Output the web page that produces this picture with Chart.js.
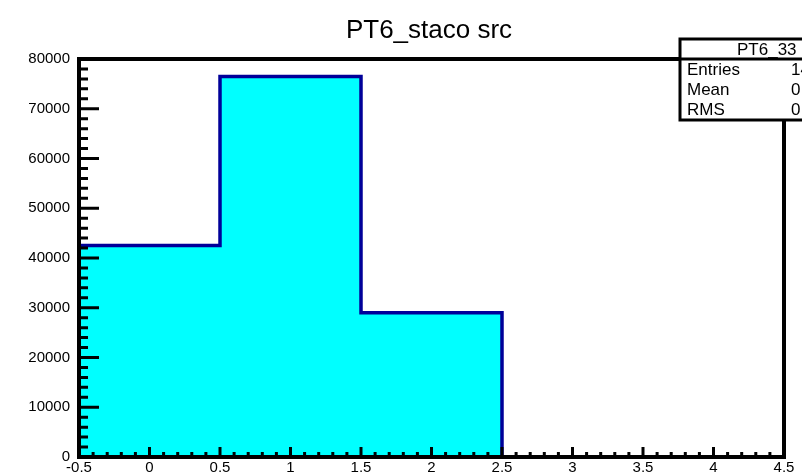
<!DOCTYPE html>
<html>
<head>
<meta charset="utf-8">
<script src="https://cdn.jsdelivr.net/npm/chart.js@4"></script>
<style>
  body { margin: 0; background: #fff; }
  canvas { display: block; }
</style>
</head>
<body>
<canvas id="histChart" width="802" height="475"></canvas>
<script>
// Histogram bin edges and counts
var binEdges = [-0.5, 0.5, 1.5, 2.5];
var binCounts = [42500, 76500, 29000];

// Axis tick labels
var xTicks = [-0.5, 0, 0.5, 1, 1.5, 2, 2.5, 3, 3.5, 4, 4.5];
var yTicks = [0, 10000, 20000, 30000, 40000, 50000, 60000, 70000, 80000];

var histName = 'PT6_33';
var histTitle = 'PT6_staco src';
var FONT = '"Liberation Sans", Arial, Helvetica, sans-serif';

// Step outline points built from edges/counts
var stepPoints = [{ x: binEdges[0], y: 0 }];
binCounts.forEach(function (c, i) {
    stepPoints.push({ x: binEdges[i], y: c });
});
stepPoints.push({ x: binEdges[binEdges.length - 1], y: 0 });

// Stats for the box
var entries = 0, sumX = 0, sumX2 = 0;
binCounts.forEach(function (c, i) {
    var mid = (binEdges[i] + binEdges[i + 1]) / 2;
    entries += c;
    sumX += c * mid;
    sumX2 += c * mid * mid;
});
var mean = sumX / entries;
var rms = Math.sqrt(sumX2 / entries - mean * mean);

// ROOT style frame, inward ticks, title and stats box
var rootFrame = {
    id: 'rootFrame',
    afterDraw: function (chart) {
        var ctx = chart.ctx;
        var a = chart.chartArea;
        var xs = chart.scales.x, ys = chart.scales.y;
        ctx.save();
        ctx.strokeStyle = '#000';

        // ticks
        ctx.lineWidth = 3;
        ctx.beginPath();
        for (var i = 0; i <= 40; i++) {
            var yv = i * 2000;
            var py = ys.getPixelForValue(yv);
            var len = (yv % 10000 === 0) ? 20 : 9;
            ctx.moveTo(a.left, py);
            ctx.lineTo(a.left + len, py);
        }
        for (var j = 0; j <= 50; j++) {
            var xv = -0.5 + j * 0.1;
            var px = xs.getPixelForValue(xv);
            var l2 = (j % 5 === 0) ? 10 : 5;
            ctx.moveTo(px, a.bottom);
            ctx.lineTo(px, a.bottom - l2);
        }
        ctx.stroke();

        // frame
        ctx.lineWidth = 4;
        ctx.strokeRect(a.left, a.top, a.right - a.left, a.bottom - a.top);

        // title
        ctx.fillStyle = '#000';
        ctx.font = '26px ' + FONT;
        ctx.textAlign = 'center';
        ctx.textBaseline = 'alphabetic';
        ctx.fillText(histTitle, 429, 38);

        // stats box
        ctx.fillStyle = '#fff';
        ctx.fillRect(680, 39, 140, 81);
        ctx.lineWidth = 3;
        ctx.strokeRect(680, 39, 140, 81);
        ctx.beginPath();
        ctx.moveTo(680, 59);
        ctx.lineTo(820, 59);
        ctx.stroke();

        ctx.fillStyle = '#000';
        ctx.font = '17px ' + FONT;
        ctx.textAlign = 'left';
        ctx.fillText(histName, 737, 55);
        ctx.fillText('Entries', 687, 75);
        ctx.fillText('Mean', 687, 95);
        ctx.fillText('RMS', 687, 115);
        ctx.fillText(String(entries), 791, 75);
        ctx.fillText(mean.toFixed(4), 791, 95);
        ctx.fillText(rms.toFixed(3), 791, 115);
        ctx.restore();
    }
};

var ctx = document.getElementById('histChart').getContext('2d');
var histChart = new Chart(ctx, {
    type: 'line',
    data: {
        datasets: [{
            label: histName,
            data: stepPoints,
            stepped: 'before',
            borderColor: '#000099',
            borderWidth: 3.5,
            backgroundColor: '#00ffff',
            fill: 'origin',
            pointRadius: 0,
            tension: 0
        }]
    },
    options: {
        responsive: false,
        animation: false,
        layout: { padding: { left: 0, top: 59, right: 18, bottom: 0 } },
        scales: {
            x: {
                type: 'linear',
                min: -0.5,
                max: 4.5,
                grid: { display: false, drawTicks: false },
                border: { display: false },
                afterBuildTicks: function (scale) {
                    scale.ticks = xTicks.map(function (v) { return { value: v }; });
                },
                afterFit: function (scale) { scale.height = 17.5; },
                ticks: {
                    autoSkip: false,
                    maxRotation: 0,
                    padding: 2,
                    color: '#000',
                    font: { family: FONT, size: 15 },
                    callback: function (v) { return String(v); }
                }
            },
            y: {
                min: 0,
                max: 80000,
                grid: { display: false, drawTicks: false },
                border: { display: false },
                afterBuildTicks: function (scale) {
                    scale.ticks = yTicks.map(function (v) { return { value: v }; });
                },
                afterFit: function (scale) { scale.width = 79; },
                ticks: {
                    autoSkip: false,
                    padding: 9,
                    color: '#000',
                    font: { family: FONT, size: 15 },
                    callback: function (v) { return String(v); }
                }
            }
        },
        plugins: {
            legend: { display: false },
            title: { display: false },
            tooltip: { enabled: false }
        }
    },
    plugins: [rootFrame]
});
</script>
</body>
</html>
